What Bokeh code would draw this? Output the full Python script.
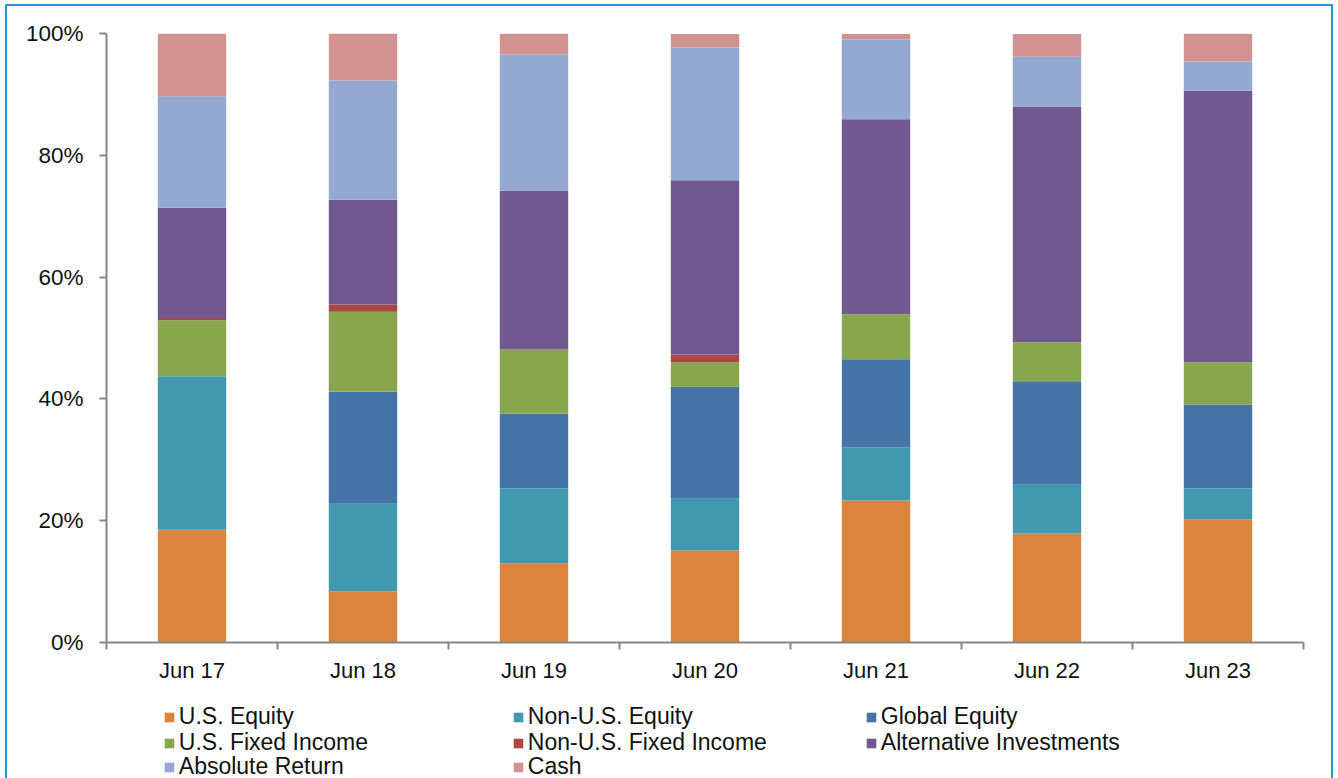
from bokeh.plotting import figure
from bokeh.layouts import column
from bokeh.models import (ColumnDataSource, Range1d, FixedTicker, LinearAxis,
                          PrintfTickFormatter, Legend, LegendItem,
                          InlineStyleSheet)
from bokeh.embed import file_html
from bokeh.resources import INLINE

# Asset allocation by fiscal year end (percent of total portfolio)
categories = ["Jun 17", "Jun 18", "Jun 19", "Jun 20", "Jun 21", "Jun 22", "Jun 23"]
us_equity = [18.5, 8.4, 13.0, 15.1, 23.3, 17.9, 20.2]
non_us_equity = [25.2, 14.4, 12.3, 8.5, 8.7, 8.0, 5.1]
global_equity = [0.0, 18.4, 12.3, 18.4, 14.5, 17.0, 13.8]
us_fixed_income = [9.2, 13.1, 10.5, 4.0, 7.4, 6.4, 6.9]
non_us_fixed_income = [0.4, 1.2, 0.0, 1.3, 0.0, 0.0, 0.0]
alternative_investments = [18.1, 17.2, 26.1, 28.6, 32.0, 38.7, 44.6]
absolute_return = [18.3, 19.6, 22.4, 21.8, 13.1, 8.2, 4.8]
cash = [10.3, 7.7, 3.4, 2.2, 0.9, 3.7, 4.6]

series_names = ["U.S. Equity", "Non-U.S. Equity", "Global Equity",
                "U.S. Fixed Income", "Non-U.S. Fixed Income",
                "Alternative Investments", "Absolute Return", "Cash"]
series_values = [us_equity, non_us_equity, global_equity, us_fixed_income,
                 non_us_fixed_income, alternative_investments,
                 absolute_return, cash]
colors = ["#DB843D", "#4298AF", "#4572A7", "#89A54E",
          "#AA4643", "#71588F", "#93A9CF", "#D19392"]
y_ticks = [0, 20, 40, 60, 80, 100]

W = 1338
CHART_H, LEGEND_H = 695, 83
LEFT, RIGHT, TOP = 106, 35, 33
FRAME_BOTTOM = 642
AXIS_GREY = "#868686"
FONT = "Liberation Sans"
TEXT = "#111111"

n = len(categories)
centers = [i + 0.5 for i in range(n)]
keys = ["s%d" % i for i in range(len(series_names))]
data = {"x": centers}
for k, vals in zip(keys, series_values):
    data[k] = vals
source = ColumnDataSource(data)

p = figure(width=W, height=CHART_H, output_backend="svg", toolbar_location=None,
           x_range=Range1d(0, n), y_range=Range1d(0, 100),
           min_border_left=LEFT, min_border_right=RIGHT,
           min_border_top=TOP, min_border_bottom=CHART_H - FRAME_BOTTOM,
           x_axis_type=None, y_axis_type=None)
p.outline_line_color = None
p.grid.visible = False
p.background_fill_color = "white"
p.border_fill_color = "white"

p.vbar_stack(keys, x="x", width=0.4, color=colors, line_color=None,
             source=source)

# y axis with percent labels
yaxis = LinearAxis(ticker=FixedTicker(ticks=y_ticks),
                   formatter=PrintfTickFormatter(format="%d%%"))
yaxis.axis_line_color = AXIS_GREY
yaxis.axis_line_width = 2
yaxis.major_tick_line_color = AXIS_GREY
yaxis.major_tick_line_width = 2
yaxis.major_tick_out = 7
yaxis.major_tick_in = 0
yaxis.minor_tick_line_color = None
yaxis.major_label_text_font = FONT
yaxis.major_label_text_font_size = "22.5px"
yaxis.major_label_text_color = TEXT
yaxis.major_label_standoff = 16
p.add_layout(yaxis, "left")

# x axis line with ticks between the categories
xtick_axis = LinearAxis(ticker=FixedTicker(ticks=list(range(n + 1))))
xtick_axis.axis_line_color = AXIS_GREY
xtick_axis.axis_line_width = 2
xtick_axis.major_tick_line_color = AXIS_GREY
xtick_axis.major_tick_line_width = 2
xtick_axis.major_tick_out = 7
xtick_axis.major_tick_in = 0
xtick_axis.minor_tick_line_color = None
xtick_axis.major_label_text_font_size = "0px"
xtick_axis.major_label_text_color = None
xtick_axis.major_label_standoff = 0
p.add_layout(xtick_axis, "below")

# category labels centred under each bar
xlabel_axis = LinearAxis(ticker=FixedTicker(ticks=centers),
                         major_label_overrides={c: lab for c, lab in zip(centers, categories)})
xlabel_axis.axis_line_color = None
xlabel_axis.major_tick_line_color = None
xlabel_axis.minor_tick_line_color = None
xlabel_axis.major_label_text_font = FONT
xlabel_axis.major_label_text_font_size = "22px"
xlabel_axis.major_label_text_color = TEXT
xlabel_axis.major_label_standoff = 2
p.add_layout(xlabel_axis, "below")

# legend strip under the chart: three columns of entries
# (its frame is aligned with the chart frame by the column layout)
leg_fig = figure(width=W, height=LEGEND_H, output_backend="svg",
                 toolbar_location=None, x_axis_type=None, y_axis_type=None,
                 x_range=Range1d(0, 1), y_range=Range1d(0, 1), min_border=0)
leg_fig.outline_line_color = None
leg_fig.grid.visible = False
leg_fig.background_fill_color = "white"
leg_fig.border_fill_color = "white"

col_marker_left = [164, 513, 866]
row_center = [718, 744, 768]
item_h = 24
page_bottom = CHART_H + LEGEND_H
for i, (name, c) in enumerate(zip(series_names, colors)):
    # zero-height swatch renderer: only its legend glyph is visible
    swatch = leg_fig.vbar(x=[0.5], top=[0.5], bottom=[0.5], width=0.01,
                          fill_color=c, line_color=None)
    col, row = i % 3, i // 3
    lx = col_marker_left[col] - 1.2 - LEFT
    ly = (page_bottom - row_center[row]) - item_h / 2
    leg = Legend(items=[LegendItem(label=name, renderers=[swatch])],
                 location=(lx, ly), orientation="vertical",
                 glyph_width=12, glyph_height=12, label_standoff=4,
                 label_height=item_h, padding=0, margin=0, spacing=0,
                 border_line_color=None, background_fill_alpha=0,
                 label_text_font=FONT, label_text_font_size="23px",
                 label_text_color=TEXT)
    leg_fig.add_layout(leg, "center")

# thin blue frame around the page
frame_css = InlineStyleSheet(css="""
:host { position: relative; }
:host::after {
  content: "";
  position: absolute;
  left: 5px; top: 4px;
  width: 1328px; height: 774px;
  box-sizing: border-box;
  border: 2px solid #1F9BD7;
  border-bottom: none;
  pointer-events: none;
  z-index: 10;
}
""")

layout = column(p, leg_fig, spacing=0, stylesheets=[frame_css])

open("out.html", "w").write(file_html(layout, INLINE))
